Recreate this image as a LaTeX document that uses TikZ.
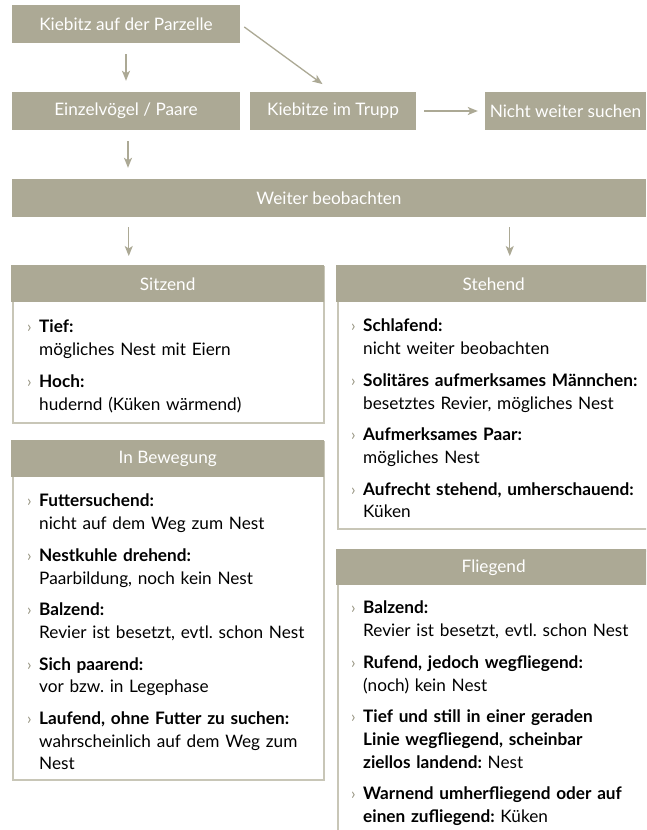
\documentclass[tikz,border=0pt]{standalone}
\usepackage{fontspec}
\setmainfont{Lato}
\usetikzlibrary{arrows.meta,calc}
\definecolor{kfill}{RGB}{172,169,149}
\definecolor{kline}{RGB}{200,198,183}
\definecolor{kbul}{RGB}{150,147,128}
\newcommand\kfs{\fontsize{17.2}{22.7}\selectfont\frenchspacing}
\newcommand\kitem[1]{\par\noindent\hangindent=12pt\hangafter=1\makebox[12pt][l]{\textcolor{kbul}{\fontsize{16}{16}\selectfont ›}}#1\par\vspace{9pt}}
\begin{document}
\begin{tikzpicture}[x=1pt,y=-1pt,
  box/.style={fill=kfill,text=white,inner sep=0pt,minimum height=38pt,font=\kfs},
  panel/.style={draw=kline,line width=1.5pt,fill=white,inner sep=0pt,anchor=north west},
  head/.style={fill=kfill,text=white,inner sep=0pt,minimum height=37pt,font=\kfs,anchor=north west},
  bodytext/.style={inner sep=0pt,font=\kfs,anchor=north west},
  arr/.style={draw=kfill,line width=1.3pt,-{Stealth[length=10pt,width=8pt,inset=2.5pt]}}]
\useasboundingbox (0,0) rectangle (646,830);
\clip (0,0) rectangle (646,830);
\fill[white] (0,0) rectangle (646,830);
% top flow
\node[box,minimum width=228pt] (kp) at (126,24) {Kiebitz auf der Parzelle};
\node[box,minimum width=228pt] (ez) at (126,111) {Einzelvögel / Paare};
\node[box,minimum width=166pt] (tr) at (333,111) {Kiebitze im Trupp};
\node[box,minimum width=161pt] (nw) at (565.5,111) {Nicht weiter suchen};
\node[box,minimum width=634pt] (wb) at (329,198) {Weiter beobachten};
\draw[arr,shorten <=11pt,shorten >=11pt] (kp) -- (ez);
\draw[arr,shorten <=5pt,shorten >=13pt] (kp.east) -- (tr.north);
\draw[arr,shorten <=8pt,shorten >=7pt] (tr) -- (nw);
\draw[arr,shorten <=11pt,shorten >=11pt] ([xshift=2pt]ez.south) -- ([xshift=2pt]ez.south |- wb.north);
% panels
\node[panel,minimum width=311pt,minimum height=156pt] (sitz) at (12,266) {};
\node[head,minimum width=312.5pt] (sitzH) at (11.25,265.25) {Sitzend};
\node[panel,minimum width=313pt,minimum height=262pt] (steh) at (337,266) {};
\node[head,minimum width=314.5pt] (stehH) at (336.25,265.25) {Stehend};
\node[panel,minimum width=311pt,minimum height=338pt] (bew) at (12,441) {};
\node[head,minimum width=312.5pt,minimum height=36.5pt] (bewH) at (11.25,440.25) {In Bewegung};
\node[panel,minimum width=313pt,minimum height=320pt] (flie) at (337,550) {};
\node[head,minimum width=314.5pt,minimum height=36pt] (flieH) at (336.25,549.25) {Fliegend};
\draw[arr,shorten <=10pt,shorten >=10pt] ([xshift=-39.5pt]sitz.north |- wb.south) -- ([xshift=-39.5pt]sitz.north);
\draw[arr,shorten <=10pt,shorten >=10pt] ([xshift=15.5pt]steh.north |- wb.south) -- ([xshift=15.5pt]steh.north);
% texts
\node[bodytext,text width=290pt] (sitzT) at (27,310) {%
\kitem{\textbf{Tief:}\newline mögliches Nest mit Eiern}
\kitem{\textbf{Hoch:}\newline hudernd (Küken wärmend)}};
\node[bodytext,text width=310pt] (stehT) at (351,309) {%
\kitem{\textbf{Schlafend:}\newline nicht weiter beobachten}
\kitem{\textbf{Solitäres aufmerksames Männchen:}\newline besetztes Revier, mögliches Nest}
\kitem{\textbf{Aufmerksames Paar:}\newline mögliches Nest}
\kitem{\textbf{Aufrecht stehend, umherschauend:}\newline Küken}};
\node[bodytext,text width=290pt] (bewT) at (27,484) {%
\kitem{\textbf{Futtersuchend:}\newline nicht auf dem Weg zum Nest}
\kitem{\textbf{Nestkuhle drehend:}\newline Paarbildung, noch kein Nest}
\kitem{\textbf{Balzend:}\newline Revier ist besetzt, evtl. schon Nest}
\kitem{\textbf{Sich paarend:}\newline vor bzw. in Legephase}
\kitem{\textbf{Laufend, ohne Futter zu suchen:}\newline wahrscheinlich auf dem Weg zum\newline Nest}};
\node[bodytext,text width=310pt] (flieT) at (351,591) {%
\kitem{\textbf{Balzend:}\newline Revier ist besetzt, evtl. schon Nest}
\kitem{\textbf{Rufend, jedoch wegfliegend:}\newline (noch) kein Nest}
\kitem{\textbf{Tief und still in einer geraden\newline Linie wegfliegend, scheinbar\newline ziellos landend:} Nest}
\kitem{\textbf{Warnend umherfliegend oder auf\newline einen zufliegend:} Küken}};
\end{tikzpicture}
\end{document}
